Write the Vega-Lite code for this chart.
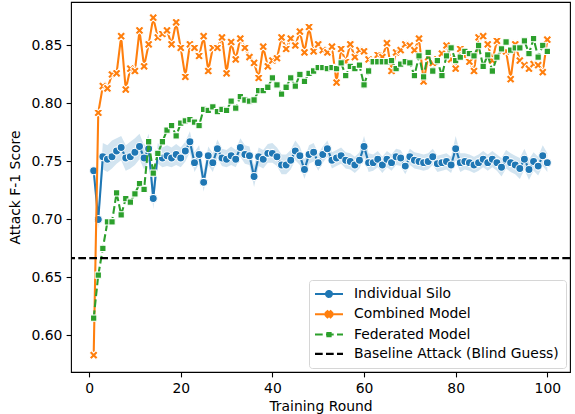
{
  "$schema": "https://vega.github.io/schema/vega-lite/v6.json",
  "width": 499,
  "height": 370,
  "autosize": {"type": "none"},
  "padding": {"left": 71, "top": 2, "right": 5, "bottom": 42},
  "background": "white",
  "config": {
    "font": "DejaVu Sans",
    "view": {"stroke": "black", "strokeWidth": 1.1},
    "axis": {
      "grid": false, "domain": false,
      "labelFont": "DejaVu Sans", "labelFontSize": 13.9, "labelColor": "black",
      "tickColor": "black", "tickSize": 4.9, "tickWidth": 1.1, "labelPadding": 4.2,
      "titleFont": "DejaVu Sans", "titleFontSize": 13.9, "titleFontWeight": "normal", "titleColor": "black"
    }
  },
  "datasets": {
    "silo": [
      {"round":1,"series":"Individual Silo","value":0.742,"lo":0.736,"hi":0.748},
      {"round":2,"series":"Individual Silo","value":0.700,"lo":0.692,"hi":0.708},
      {"round":3,"series":"Individual Silo","value":0.754,"lo":0.743,"hi":0.766},
      {"round":4,"series":"Individual Silo","value":0.752,"lo":0.741,"hi":0.764},
      {"round":5,"series":"Individual Silo","value":0.754,"lo":0.744,"hi":0.768},
      {"round":6,"series":"Individual Silo","value":0.759,"lo":0.748,"hi":0.770},
      {"round":7,"series":"Individual Silo","value":0.762,"lo":0.751,"hi":0.772},
      {"round":8,"series":"Individual Silo","value":0.753,"lo":0.742,"hi":0.764},
      {"round":9,"series":"Individual Silo","value":0.754,"lo":0.744,"hi":0.767},
      {"round":10,"series":"Individual Silo","value":0.758,"lo":0.747,"hi":0.770},
      {"round":11,"series":"Individual Silo","value":0.763,"lo":0.752,"hi":0.774},
      {"round":12,"series":"Individual Silo","value":0.753,"lo":0.743,"hi":0.764},
      {"round":13,"series":"Individual Silo","value":0.761,"lo":0.750,"hi":0.774},
      {"round":14,"series":"Individual Silo","value":0.718,"lo":0.709,"hi":0.729},
      {"round":15,"series":"Individual Silo","value":0.757,"lo":0.748,"hi":0.766},
      {"round":16,"series":"Individual Silo","value":0.753,"lo":0.745,"hi":0.762},
      {"round":17,"series":"Individual Silo","value":0.755,"lo":0.746,"hi":0.764},
      {"round":18,"series":"Individual Silo","value":0.753,"lo":0.745,"hi":0.762},
      {"round":19,"series":"Individual Silo","value":0.756,"lo":0.747,"hi":0.765},
      {"round":20,"series":"Individual Silo","value":0.753,"lo":0.745,"hi":0.762},
      {"round":21,"series":"Individual Silo","value":0.759,"lo":0.750,"hi":0.767},
      {"round":22,"series":"Individual Silo","value":0.767,"lo":0.758,"hi":0.776},
      {"round":23,"series":"Individual Silo","value":0.749,"lo":0.741,"hi":0.758},
      {"round":24,"series":"Individual Silo","value":0.756,"lo":0.748,"hi":0.764},
      {"round":25,"series":"Individual Silo","value":0.732,"lo":0.724,"hi":0.741},
      {"round":26,"series":"Individual Silo","value":0.755,"lo":0.747,"hi":0.763},
      {"round":27,"series":"Individual Silo","value":0.749,"lo":0.741,"hi":0.757},
      {"round":28,"series":"Individual Silo","value":0.761,"lo":0.753,"hi":0.769},
      {"round":29,"series":"Individual Silo","value":0.753,"lo":0.746,"hi":0.761},
      {"round":30,"series":"Individual Silo","value":0.752,"lo":0.745,"hi":0.760},
      {"round":31,"series":"Individual Silo","value":0.755,"lo":0.747,"hi":0.763},
      {"round":32,"series":"Individual Silo","value":0.752,"lo":0.745,"hi":0.760},
      {"round":33,"series":"Individual Silo","value":0.762,"lo":0.754,"hi":0.770},
      {"round":34,"series":"Individual Silo","value":0.756,"lo":0.748,"hi":0.764},
      {"round":35,"series":"Individual Silo","value":0.755,"lo":0.747,"hi":0.763},
      {"round":36,"series":"Individual Silo","value":0.737,"lo":0.728,"hi":0.746},
      {"round":37,"series":"Individual Silo","value":0.754,"lo":0.746,"hi":0.762},
      {"round":38,"series":"Individual Silo","value":0.752,"lo":0.744,"hi":0.760},
      {"round":39,"series":"Individual Silo","value":0.757,"lo":0.749,"hi":0.765},
      {"round":40,"series":"Individual Silo","value":0.757,"lo":0.749,"hi":0.766},
      {"round":41,"series":"Individual Silo","value":0.754,"lo":0.746,"hi":0.762},
      {"round":42,"series":"Individual Silo","value":0.747,"lo":0.739,"hi":0.756},
      {"round":43,"series":"Individual Silo","value":0.747,"lo":0.739,"hi":0.756},
      {"round":44,"series":"Individual Silo","value":0.751,"lo":0.743,"hi":0.760},
      {"round":45,"series":"Individual Silo","value":0.759,"lo":0.751,"hi":0.768},
      {"round":46,"series":"Individual Silo","value":0.755,"lo":0.747,"hi":0.763},
      {"round":47,"series":"Individual Silo","value":0.743,"lo":0.735,"hi":0.752},
      {"round":48,"series":"Individual Silo","value":0.756,"lo":0.748,"hi":0.764},
      {"round":49,"series":"Individual Silo","value":0.758,"lo":0.750,"hi":0.766},
      {"round":50,"series":"Individual Silo","value":0.749,"lo":0.742,"hi":0.757},
      {"round":51,"series":"Individual Silo","value":0.756,"lo":0.749,"hi":0.763},
      {"round":52,"series":"Individual Silo","value":0.761,"lo":0.754,"hi":0.768},
      {"round":53,"series":"Individual Silo","value":0.751,"lo":0.744,"hi":0.758},
      {"round":54,"series":"Individual Silo","value":0.753,"lo":0.746,"hi":0.760},
      {"round":55,"series":"Individual Silo","value":0.755,"lo":0.748,"hi":0.762},
      {"round":56,"series":"Individual Silo","value":0.751,"lo":0.744,"hi":0.758},
      {"round":57,"series":"Individual Silo","value":0.750,"lo":0.743,"hi":0.757},
      {"round":58,"series":"Individual Silo","value":0.747,"lo":0.740,"hi":0.754},
      {"round":59,"series":"Individual Silo","value":0.751,"lo":0.744,"hi":0.758},
      {"round":60,"series":"Individual Silo","value":0.763,"lo":0.754,"hi":0.772},
      {"round":61,"series":"Individual Silo","value":0.749,"lo":0.741,"hi":0.757},
      {"round":62,"series":"Individual Silo","value":0.749,"lo":0.742,"hi":0.756},
      {"round":63,"series":"Individual Silo","value":0.752,"lo":0.745,"hi":0.759},
      {"round":64,"series":"Individual Silo","value":0.747,"lo":0.740,"hi":0.754},
      {"round":65,"series":"Individual Silo","value":0.752,"lo":0.745,"hi":0.759},
      {"round":66,"series":"Individual Silo","value":0.749,"lo":0.742,"hi":0.756},
      {"round":67,"series":"Individual Silo","value":0.754,"lo":0.747,"hi":0.761},
      {"round":68,"series":"Individual Silo","value":0.753,"lo":0.746,"hi":0.760},
      {"round":69,"series":"Individual Silo","value":0.746,"lo":0.739,"hi":0.753},
      {"round":70,"series":"Individual Silo","value":0.754,"lo":0.747,"hi":0.761},
      {"round":71,"series":"Individual Silo","value":0.751,"lo":0.744,"hi":0.758},
      {"round":72,"series":"Individual Silo","value":0.750,"lo":0.743,"hi":0.757},
      {"round":73,"series":"Individual Silo","value":0.749,"lo":0.742,"hi":0.756},
      {"round":74,"series":"Individual Silo","value":0.750,"lo":0.743,"hi":0.757},
      {"round":75,"series":"Individual Silo","value":0.754,"lo":0.747,"hi":0.761},
      {"round":76,"series":"Individual Silo","value":0.748,"lo":0.741,"hi":0.755},
      {"round":77,"series":"Individual Silo","value":0.749,"lo":0.742,"hi":0.756},
      {"round":78,"series":"Individual Silo","value":0.750,"lo":0.743,"hi":0.757},
      {"round":79,"series":"Individual Silo","value":0.747,"lo":0.740,"hi":0.754},
      {"round":80,"series":"Individual Silo","value":0.761,"lo":0.751,"hi":0.772},
      {"round":81,"series":"Individual Silo","value":0.749,"lo":0.741,"hi":0.757},
      {"round":82,"series":"Individual Silo","value":0.750,"lo":0.743,"hi":0.757},
      {"round":83,"series":"Individual Silo","value":0.749,"lo":0.742,"hi":0.756},
      {"round":84,"series":"Individual Silo","value":0.747,"lo":0.740,"hi":0.754},
      {"round":85,"series":"Individual Silo","value":0.749,"lo":0.742,"hi":0.756},
      {"round":86,"series":"Individual Silo","value":0.752,"lo":0.745,"hi":0.759},
      {"round":87,"series":"Individual Silo","value":0.749,"lo":0.742,"hi":0.756},
      {"round":88,"series":"Individual Silo","value":0.752,"lo":0.745,"hi":0.759},
      {"round":89,"series":"Individual Silo","value":0.749,"lo":0.742,"hi":0.756},
      {"round":90,"series":"Individual Silo","value":0.745,"lo":0.737,"hi":0.753},
      {"round":91,"series":"Individual Silo","value":0.752,"lo":0.744,"hi":0.760},
      {"round":92,"series":"Individual Silo","value":0.749,"lo":0.741,"hi":0.757},
      {"round":93,"series":"Individual Silo","value":0.747,"lo":0.739,"hi":0.755},
      {"round":94,"series":"Individual Silo","value":0.744,"lo":0.735,"hi":0.753},
      {"round":95,"series":"Individual Silo","value":0.752,"lo":0.743,"hi":0.761},
      {"round":96,"series":"Individual Silo","value":0.743,"lo":0.734,"hi":0.752},
      {"round":97,"series":"Individual Silo","value":0.750,"lo":0.742,"hi":0.758},
      {"round":98,"series":"Individual Silo","value":0.746,"lo":0.738,"hi":0.754},
      {"round":99,"series":"Individual Silo","value":0.755,"lo":0.746,"hi":0.764},
      {"round":100,"series":"Individual Silo","value":0.749,"lo":0.741,"hi":0.757}
    ],
    "combined": [
      {"round":1,"series":"Combined Model","value":0.583},
      {"round":2,"series":"Combined Model","value":0.792},
      {"round":3,"series":"Combined Model","value":0.815},
      {"round":4,"series":"Combined Model","value":0.813},
      {"round":5,"series":"Combined Model","value":0.825},
      {"round":6,"series":"Combined Model","value":0.826},
      {"round":7,"series":"Combined Model","value":0.858},
      {"round":8,"series":"Combined Model","value":0.812},
      {"round":9,"series":"Combined Model","value":0.830},
      {"round":10,"series":"Combined Model","value":0.828},
      {"round":11,"series":"Combined Model","value":0.863},
      {"round":12,"series":"Combined Model","value":0.832},
      {"round":13,"series":"Combined Model","value":0.851},
      {"round":14,"series":"Combined Model","value":0.874},
      {"round":15,"series":"Combined Model","value":0.857},
      {"round":16,"series":"Combined Model","value":0.860},
      {"round":17,"series":"Combined Model","value":0.863},
      {"round":18,"series":"Combined Model","value":0.851},
      {"round":19,"series":"Combined Model","value":0.870},
      {"round":20,"series":"Combined Model","value":0.848},
      {"round":21,"series":"Combined Model","value":0.823},
      {"round":22,"series":"Combined Model","value":0.851},
      {"round":23,"series":"Combined Model","value":0.848},
      {"round":24,"series":"Combined Model","value":0.841},
      {"round":25,"series":"Combined Model","value":0.858},
      {"round":26,"series":"Combined Model","value":0.828},
      {"round":27,"series":"Combined Model","value":0.848},
      {"round":28,"series":"Combined Model","value":0.848},
      {"round":29,"series":"Combined Model","value":0.857},
      {"round":30,"series":"Combined Model","value":0.826},
      {"round":31,"series":"Combined Model","value":0.853},
      {"round":32,"series":"Combined Model","value":0.838},
      {"round":33,"series":"Combined Model","value":0.856},
      {"round":34,"series":"Combined Model","value":0.848},
      {"round":35,"series":"Combined Model","value":0.840},
      {"round":36,"series":"Combined Model","value":0.835},
      {"round":37,"series":"Combined Model","value":0.822},
      {"round":38,"series":"Combined Model","value":0.849},
      {"round":39,"series":"Combined Model","value":0.832},
      {"round":40,"series":"Combined Model","value":0.837},
      {"round":41,"series":"Combined Model","value":0.839},
      {"round":42,"series":"Combined Model","value":0.857},
      {"round":43,"series":"Combined Model","value":0.847},
      {"round":44,"series":"Combined Model","value":0.856},
      {"round":45,"series":"Combined Model","value":0.850},
      {"round":46,"series":"Combined Model","value":0.862},
      {"round":47,"series":"Combined Model","value":0.844},
      {"round":48,"series":"Combined Model","value":0.866},
      {"round":49,"series":"Combined Model","value":0.845},
      {"round":50,"series":"Combined Model","value":0.851},
      {"round":51,"series":"Combined Model","value":0.846},
      {"round":52,"series":"Combined Model","value":0.844},
      {"round":53,"series":"Combined Model","value":0.849},
      {"round":54,"series":"Combined Model","value":0.818},
      {"round":55,"series":"Combined Model","value":0.847},
      {"round":56,"series":"Combined Model","value":0.836},
      {"round":57,"series":"Combined Model","value":0.851},
      {"round":58,"series":"Combined Model","value":0.840},
      {"round":59,"series":"Combined Model","value":0.846},
      {"round":60,"series":"Combined Model","value":0.845},
      {"round":61,"series":"Combined Model","value":0.838},
      {"round":62,"series":"Combined Model","value":0.836},
      {"round":63,"series":"Combined Model","value":0.842},
      {"round":64,"series":"Combined Model","value":0.840},
      {"round":65,"series":"Combined Model","value":0.852},
      {"round":66,"series":"Combined Model","value":0.828},
      {"round":67,"series":"Combined Model","value":0.844},
      {"round":68,"series":"Combined Model","value":0.846},
      {"round":69,"series":"Combined Model","value":0.851},
      {"round":70,"series":"Combined Model","value":0.850},
      {"round":71,"series":"Combined Model","value":0.846},
      {"round":72,"series":"Combined Model","value":0.856},
      {"round":73,"series":"Combined Model","value":0.819},
      {"round":74,"series":"Combined Model","value":0.840},
      {"round":75,"series":"Combined Model","value":0.835},
      {"round":76,"series":"Combined Model","value":0.838},
      {"round":77,"series":"Combined Model","value":0.843},
      {"round":78,"series":"Combined Model","value":0.850},
      {"round":79,"series":"Combined Model","value":0.838},
      {"round":80,"series":"Combined Model","value":0.830},
      {"round":81,"series":"Combined Model","value":0.847},
      {"round":82,"series":"Combined Model","value":0.841},
      {"round":83,"series":"Combined Model","value":0.836},
      {"round":84,"series":"Combined Model","value":0.828},
      {"round":85,"series":"Combined Model","value":0.857},
      {"round":86,"series":"Combined Model","value":0.858},
      {"round":87,"series":"Combined Model","value":0.851},
      {"round":88,"series":"Combined Model","value":0.837},
      {"round":89,"series":"Combined Model","value":0.854},
      {"round":90,"series":"Combined Model","value":0.845},
      {"round":91,"series":"Combined Model","value":0.845},
      {"round":92,"series":"Combined Model","value":0.821},
      {"round":93,"series":"Combined Model","value":0.851},
      {"round":94,"series":"Combined Model","value":0.837},
      {"round":95,"series":"Combined Model","value":0.833},
      {"round":96,"series":"Combined Model","value":0.830},
      {"round":97,"series":"Combined Model","value":0.834},
      {"round":98,"series":"Combined Model","value":0.833},
      {"round":99,"series":"Combined Model","value":0.827},
      {"round":100,"series":"Combined Model","value":0.855}
    ],
    "federated": [
      {"round":1,"series":"Federated Model","value":0.615},
      {"round":2,"series":"Federated Model","value":0.652},
      {"round":3,"series":"Federated Model","value":0.675},
      {"round":4,"series":"Federated Model","value":0.698},
      {"round":5,"series":"Federated Model","value":0.698},
      {"round":6,"series":"Federated Model","value":0.723},
      {"round":7,"series":"Federated Model","value":0.704},
      {"round":8,"series":"Federated Model","value":0.718},
      {"round":9,"series":"Federated Model","value":0.715},
      {"round":10,"series":"Federated Model","value":0.722},
      {"round":11,"series":"Federated Model","value":0.731},
      {"round":12,"series":"Federated Model","value":0.726},
      {"round":13,"series":"Federated Model","value":0.767},
      {"round":14,"series":"Federated Model","value":0.740},
      {"round":15,"series":"Federated Model","value":0.757},
      {"round":16,"series":"Federated Model","value":0.767},
      {"round":17,"series":"Federated Model","value":0.777},
      {"round":18,"series":"Federated Model","value":0.781},
      {"round":19,"series":"Federated Model","value":0.772},
      {"round":20,"series":"Federated Model","value":0.783},
      {"round":21,"series":"Federated Model","value":0.785},
      {"round":22,"series":"Federated Model","value":0.786},
      {"round":23,"series":"Federated Model","value":0.784},
      {"round":24,"series":"Federated Model","value":0.781},
      {"round":25,"series":"Federated Model","value":0.795},
      {"round":26,"series":"Federated Model","value":0.794},
      {"round":27,"series":"Federated Model","value":0.797},
      {"round":28,"series":"Federated Model","value":0.793},
      {"round":29,"series":"Federated Model","value":0.795},
      {"round":30,"series":"Federated Model","value":0.794},
      {"round":31,"series":"Federated Model","value":0.802},
      {"round":32,"series":"Federated Model","value":0.796},
      {"round":33,"series":"Federated Model","value":0.806},
      {"round":34,"series":"Federated Model","value":0.803},
      {"round":35,"series":"Federated Model","value":0.802},
      {"round":36,"series":"Federated Model","value":0.803},
      {"round":37,"series":"Federated Model","value":0.811},
      {"round":38,"series":"Federated Model","value":0.811},
      {"round":39,"series":"Federated Model","value":0.814},
      {"round":40,"series":"Federated Model","value":0.822},
      {"round":41,"series":"Federated Model","value":0.816},
      {"round":42,"series":"Federated Model","value":0.808},
      {"round":43,"series":"Federated Model","value":0.814},
      {"round":44,"series":"Federated Model","value":0.822},
      {"round":45,"series":"Federated Model","value":0.815},
      {"round":46,"series":"Federated Model","value":0.825},
      {"round":47,"series":"Federated Model","value":0.819},
      {"round":48,"series":"Federated Model","value":0.826},
      {"round":49,"series":"Federated Model","value":0.828},
      {"round":50,"series":"Federated Model","value":0.831},
      {"round":51,"series":"Federated Model","value":0.831},
      {"round":52,"series":"Federated Model","value":0.830},
      {"round":53,"series":"Federated Model","value":0.831},
      {"round":54,"series":"Federated Model","value":0.830},
      {"round":55,"series":"Federated Model","value":0.835},
      {"round":56,"series":"Federated Model","value":0.824},
      {"round":57,"series":"Federated Model","value":0.832},
      {"round":58,"series":"Federated Model","value":0.830},
      {"round":59,"series":"Federated Model","value":0.833},
      {"round":60,"series":"Federated Model","value":0.816},
      {"round":61,"series":"Federated Model","value":0.828},
      {"round":62,"series":"Federated Model","value":0.836},
      {"round":63,"series":"Federated Model","value":0.836},
      {"round":64,"series":"Federated Model","value":0.836},
      {"round":65,"series":"Federated Model","value":0.836},
      {"round":66,"series":"Federated Model","value":0.837},
      {"round":67,"series":"Federated Model","value":0.830},
      {"round":68,"series":"Federated Model","value":0.834},
      {"round":69,"series":"Federated Model","value":0.836},
      {"round":70,"series":"Federated Model","value":0.835},
      {"round":71,"series":"Federated Model","value":0.824},
      {"round":72,"series":"Federated Model","value":0.841},
      {"round":73,"series":"Federated Model","value":0.823},
      {"round":74,"series":"Federated Model","value":0.844},
      {"round":75,"series":"Federated Model","value":0.828},
      {"round":76,"series":"Federated Model","value":0.837},
      {"round":77,"series":"Federated Model","value":0.824},
      {"round":78,"series":"Federated Model","value":0.841},
      {"round":79,"series":"Federated Model","value":0.848},
      {"round":80,"series":"Federated Model","value":0.837},
      {"round":81,"series":"Federated Model","value":0.840},
      {"round":82,"series":"Federated Model","value":0.845},
      {"round":83,"series":"Federated Model","value":0.843},
      {"round":84,"series":"Federated Model","value":0.841},
      {"round":85,"series":"Federated Model","value":0.850},
      {"round":86,"series":"Federated Model","value":0.832},
      {"round":87,"series":"Federated Model","value":0.842},
      {"round":88,"series":"Federated Model","value":0.828},
      {"round":89,"series":"Federated Model","value":0.840},
      {"round":90,"series":"Federated Model","value":0.847},
      {"round":91,"series":"Federated Model","value":0.853},
      {"round":92,"series":"Federated Model","value":0.846},
      {"round":93,"series":"Federated Model","value":0.848},
      {"round":94,"series":"Federated Model","value":0.848},
      {"round":95,"series":"Federated Model","value":0.854},
      {"round":96,"series":"Federated Model","value":0.843},
      {"round":97,"series":"Federated Model","value":0.856},
      {"round":98,"series":"Federated Model","value":0.840},
      {"round":99,"series":"Federated Model","value":0.850},
      {"round":100,"series":"Federated Model","value":0.845}
    ],
    "baseline": [
      {"series":"Baseline Attack (Blind Guess)","value":0.6667}
    ]
  },
  "layer": [
    {
      "data": {"name": "silo"},
      "mark": {"type": "area", "color": "#1f77b4", "opacity": 0.2},
      "encoding": {
        "x": {"field": "round", "type": "quantitative", "title": "Training Round", "scale": {"domain": [-3.95, 104.95], "nice": false, "zero": false}, "axis": {"values": [0, 20, 40, 60, 80, 100], "titlePadding": 4}},
        "y": {"field": "lo", "type": "quantitative", "title": "Attack F-1 Score", "scale": {"domain": [0.5685, 0.8875], "nice": false, "zero": false}, "axis": {"values": [0.6, 0.65, 0.7, 0.75, 0.8, 0.85], "format": ".2f", "titlePadding": 8}},
        "y2": {"field": "hi"}
      }
    },
    {
      "data": {"name": "silo"},
      "mark": {"type": "line", "strokeWidth": 2.08, "strokeJoin": "round"},
      "encoding": {
        "x": {"field": "round", "type": "quantitative", "title": "Training Round"},
        "y": {"field": "value", "type": "quantitative", "title": "Attack F-1 Score"},
        "color": {"field": "series", "type": "nominal", "scale": {"domain": ["Individual Silo", "Combined Model", "Federated Model", "Baseline Attack (Blind Guess)"], "range": ["#1f77b4", "#ff7f0e", "#2ca02c", "#000000"]}}
      }
    },
    {
      "data": {"name": "silo"},
      "mark": {"type": "point", "shape": "circle", "filled": true, "opacity": 1, "size": 64, "stroke": "white", "strokeWidth": 1.04},
      "encoding": {
        "x": {"field": "round", "type": "quantitative", "title": "Training Round"},
        "y": {"field": "value", "type": "quantitative", "title": "Attack F-1 Score"},
        "color": {"field": "series", "type": "nominal"}
      }
    },
    {
      "data": {"name": "combined"},
      "mark": {"type": "line", "strokeWidth": 2.08, "strokeJoin": "round"},
      "encoding": {
        "x": {"field": "round", "type": "quantitative", "title": "Training Round"},
        "y": {"field": "value", "type": "quantitative", "title": "Attack F-1 Score"},
        "color": {"field": "series", "type": "nominal"}
      }
    },
    {
      "data": {"name": "combined"},
      "mark": {"type": "point", "shape": "M-0.5,-1L0,-0.5L0.5,-1L1,-0.5L0.5,0L1,0.5L0.5,1L0,0.5L-0.5,1L-1,0.5L-0.5,0L-1,-0.5Z", "filled": true, "opacity": 1, "size": 80, "stroke": "white", "strokeWidth": 1.04},
      "encoding": {
        "x": {"field": "round", "type": "quantitative", "title": "Training Round"},
        "y": {"field": "value", "type": "quantitative", "title": "Attack F-1 Score"},
        "color": {"field": "series", "type": "nominal"}
      }
    },
    {
      "data": {"name": "federated"},
      "mark": {"type": "line", "strokeWidth": 2.08, "strokeDash": [7.7, 3.3]},
      "encoding": {
        "x": {"field": "round", "type": "quantitative", "title": "Training Round"},
        "y": {"field": "value", "type": "quantitative", "title": "Attack F-1 Score"},
        "color": {"field": "series", "type": "nominal"}
      }
    },
    {
      "data": {"name": "federated"},
      "mark": {"type": "point", "shape": "square", "filled": true, "opacity": 1, "size": 40, "stroke": "white", "strokeWidth": 1.04},
      "encoding": {
        "x": {"field": "round", "type": "quantitative", "title": "Training Round"},
        "y": {"field": "value", "type": "quantitative", "title": "Attack F-1 Score"},
        "color": {"field": "series", "type": "nominal"}
      }
    },
    {
      "data": {"name": "baseline"},
      "mark": {"type": "rule", "strokeWidth": 2.08, "strokeDash": [7.7, 3.3]},
      "encoding": {
        "y": {"field": "value", "type": "quantitative", "title": "Attack F-1 Score"},
        "color": {
          "field": "series", "type": "nominal",
          "legend": {
            "orient": "bottom-right", "offset": 4.5, "title": null,
            "padding": 7, "rowPadding": 4.3, "labelOffset": 18.05, "symbolOffset": 6.05,
            "labelFont": "DejaVu Sans", "labelFontSize": 13.9, "labelColor": "black", "labelLimit": 400,
            "strokeColor": "#d6d6d6", "fillColor": "white", "cornerRadius": 3,
            "symbolSize": 100, "symbolStrokeWidth": 2.08,
            "encoding": {
              "symbols": {
                "shape": {"value": {"expr": "datum.value === 'Individual Silo' ? 'M-2.8,0H2.8M0.59,0A0.59,0.59,0,1,1,-0.59,0A0.59,0.59,0,1,1,0.59,0Z' : datum.value === 'Combined Model' ? 'M-2.8,0H2.8M-0.31,-0.62L0,-0.31L0.31,-0.62L0.62,-0.31L0.31,0L0.62,0.31L0.31,0.62L0,0.31L-0.31,0.62L-0.62,0.31L-0.31,0L-0.62,-0.31Z' : datum.value === 'Federated Model' ? 'M-2.8,0H-1.26M-0.6,0H0.94M1.6,0H2.8M-0.32,-0.32H0.32V0.32H-0.32Z' : 'M-2.8,0H-1.26M-0.6,0H0.94M1.6,0H2.8'"}},
                "stroke": {"value": {"expr": "scale('color', datum.value)"}},
                "fill": {"value": {"expr": "scale('color', datum.value)"}},
                "fillOpacity": {"value": 1},
                "strokeWidth": {"value": 2.08},
                "strokeDash": {"value": [1, 0]},
                "opacity": {"value": 1},
                "size": {"value": 100}
              }
            }
          }
        }
      }
    }
  ]
}
